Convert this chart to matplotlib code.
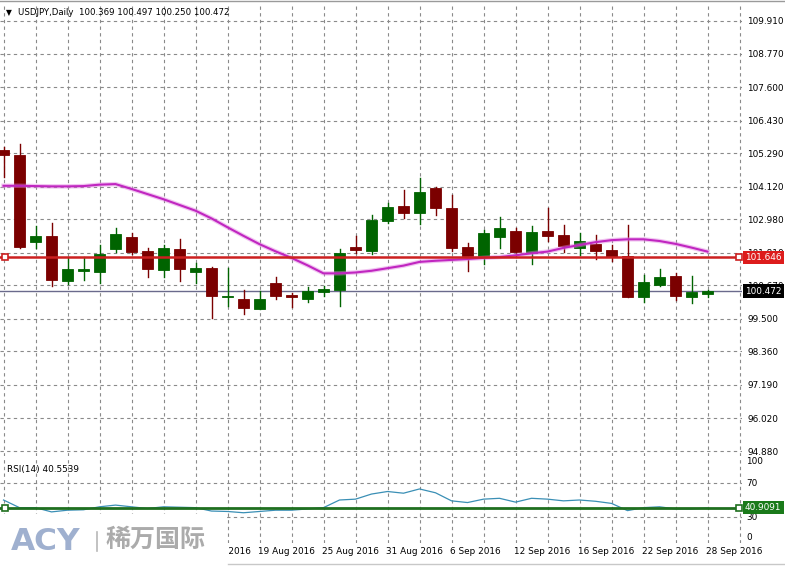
import matplotlib.pyplot as plt
import matplotlib.transforms as mtransforms
from matplotlib.patches import Rectangle
from matplotlib.lines import Line2D
import pandas as pd

# USDJPY daily bars, 28 Jul 2016 .. 28 Sep 2016
bar_dates = pd.bdate_range("2016-07-28", "2016-09-28")
opens = [105.40, 105.23, 102.20, 102.40, 100.83, 101.18, 101.15, 101.95, 102.35, 101.88,
         101.21, 101.93, 101.15, 101.27, 100.25, 100.18, 99.85, 100.74, 100.34, 100.20,
         100.45, 100.51, 102.02, 101.87, 102.93, 103.44, 103.19, 104.06, 103.36, 102.00,
         101.70, 102.37, 102.57, 101.81, 102.58, 102.43, 101.99, 102.12, 101.91, 101.70,
         100.28, 100.68, 100.99, 100.28, 100.369]
highs = [105.52, 105.61, 102.74, 102.84, 101.65, 101.65, 102.08, 102.66, 102.51, 101.96,
         102.07, 102.28, 101.46, 101.32, 101.27, 100.51, 100.48, 100.97, 100.41, 100.62,
         100.65, 101.93, 102.40, 103.13, 103.56, 104.00, 104.41, 104.12, 103.83, 102.14,
         102.60, 103.05, 102.66, 102.74, 103.36, 102.78, 102.51, 102.43, 102.08, 102.78,
         101.03, 101.23, 101.09, 100.99, 100.497]
lows = [104.47, 101.96, 101.96, 100.66, 100.72, 100.86, 100.76, 101.85, 101.77, 100.97,
        100.97, 100.83, 100.76, 99.52, 99.96, 99.66, 99.83, 100.19, 99.92, 100.09,
        100.30, 99.96, 101.79, 101.75, 102.86, 103.02, 102.81, 103.13, 101.87, 101.18,
        101.42, 101.96, 101.67, 101.42, 102.23, 101.85, 101.73, 101.58, 101.53, 100.28,
        100.10, 100.65, 100.16, 100.07, 100.250]
closes = [105.23, 102.02, 102.40, 100.86, 101.23, 101.25, 101.76, 102.47, 101.84, 101.25,
          101.96, 101.25, 101.27, 100.31, 100.31, 99.87, 100.18, 100.31, 100.25, 100.47,
          100.54, 101.81, 101.91, 102.95, 103.40, 103.21, 103.94, 103.39, 101.99, 101.70,
          102.49, 102.66, 101.84, 102.55, 102.41, 102.05, 102.22, 101.88, 101.67, 100.28,
          100.79, 100.97, 100.31, 100.43, 100.472]
ma = [104.15, 104.15, 104.14, 104.13, 104.13, 104.14, 104.19, 104.21, 104.04, 103.86,
      103.68, 103.48, 103.28, 103.01, 102.70, 102.40, 102.11, 101.86, 101.63, 101.37,
      101.09, 101.09, 101.12, 101.18, 101.27, 101.36, 101.49, 101.53, 101.56, 101.59,
      101.63, 101.66, 101.72, 101.79, 101.85, 101.98, 102.08, 102.18, 102.25, 102.28,
      102.28, 102.22, 102.12, 101.99, 101.85]
rsi = [50.0, 41.0, 41.0, 36.0, 38.0, 38.5, 42.0, 44.0, 42.0, 40.0,
       42.0, 41.5, 41.0, 37.0, 36.5, 35.0, 36.5, 38.0, 38.0, 39.5,
       41.0, 50.0, 51.0, 57.0, 60.0, 58.0, 63.0, 58.5, 49.0, 47.0,
       51.0, 52.0, 47.5, 52.0, 51.0, 49.0, 50.0, 48.5, 46.0, 37.5,
       41.0, 42.0, 39.5, 39.5, 40.55]
price_levels = [109.910, 108.770, 107.600, 106.430, 105.290, 104.120, 102.980,
                101.810, 100.670, 99.500, 98.360, 97.190, 96.020, 94.880]
red_level = 101.646
last_price = 100.472
rsi_level = 40.9091

bull = "#006400"
bear = "#7b0000"
grid_kw = dict(color="#8a8a8a", linestyle=(0, (3, 3)), linewidth=0.8)
font = "DejaVu Sans"
fs = 6.4

fig = plt.figure(figsize=(7.85, 5.66), dpi=100)
W, H = 785, 566
ax = fig.add_axes([0, 1 - 456 / H, 742 / W, 453 / H])
axr = fig.add_axes([0, 1 - 542.5 / H, 742 / W, 85 / H])

n = len(closes)
xs = list(range(n))
for a in (ax, axr):
    a.set_xlim(-0.219, 46.156)
    for s in a.spines.values():
        s.set_visible(False)
    a.set_xticks([])
    for gx in range(0, 48, 2):
        a.axvline(gx, zorder=0, **grid_kw)

# main price panel
ax.set_ylim(94.706, 110.539)
for lv in price_levels:
    ax.axhline(lv, zorder=0, **grid_kw)
ax.yaxis.tick_right()
ax.set_yticks(price_levels)
ax.set_yticklabels([f"{v:.3f}" for v in price_levels], fontsize=fs, family=font)
ax.tick_params(axis="y", length=0, pad=4)

bw = 0.69
for i in xs:
    o, h, l, c = opens[i], highs[i], lows[i], closes[i]
    col = bull if c >= o else bear
    ax.plot([i, i], [l, h], color=col, linewidth=1, zorder=3)
    ax.add_patch(Rectangle((i - bw / 2, min(o, c)), bw, max(abs(c - o), 0.03),
                           facecolor=col, edgecolor=col, linewidth=0.6, zorder=4))

ax.plot(xs, ma, color="#e07ee0", linewidth=3.2, alpha=0.45, zorder=5)
ax.plot(xs, ma, color="#c026c0", linewidth=1.5, zorder=5)

ax.axhline(red_level, color="#cc2020", linewidth=1.8, zorder=6)
ax.plot([0.09, 45.97], [red_level, red_level], linestyle="none", marker="s",
        markersize=4, markerfacecolor="white", markeredgecolor="#cc2020",
        markeredgewidth=1.2, zorder=7, clip_on=False)
ax.axhline(last_price, color="#6a6a8c", linewidth=1.0, zorder=2)

ax.text(1.004, red_level, "101.646", transform=ax.get_yaxis_transform(),
        fontsize=fs, family=font, color="white", va="center", ha="left", zorder=10,
        bbox=dict(boxstyle="square,pad=0.25", facecolor="#dd1c1c", edgecolor="none"))
ax.text(1.004, last_price, "100.472", transform=ax.get_yaxis_transform(),
        fontsize=fs, family=font, color="white", va="center", ha="left", zorder=10,
        bbox=dict(boxstyle="square,pad=0.25", facecolor="black", edgecolor="none"))

ax.text(0.008, 0.979, "\u25bc", transform=ax.transAxes, fontsize=5.5, family=font,
        va="center", ha="left")
ax.text(0.024, 0.98, "USDJPY,Daily  100.369 100.497 100.250 100.472",
        transform=ax.transAxes, fontsize=6.2, family=font, va="center", ha="left")

# RSI panel
axr.set_ylim(0, 100)
axr.set_yticks([])
for lv in (70, 30):
    axr.axhline(lv, zorder=0, **grid_kw)
axr.plot(xs, rsi, color="#3a8fb5", linewidth=0.9, zorder=3)
axr.axhline(rsi_level, color="#1f6f1f", linewidth=2.0, zorder=4)
axr.plot([0.09, 45.97], [rsi_level, rsi_level], linestyle="none", marker="s",
         markersize=4, markerfacecolor="white", markeredgecolor="#1f6f1f",
         markeredgewidth=1.2, zorder=7, clip_on=False)
ytr = axr.get_yaxis_transform()
for lv, va in ((100, "top"), (70, "center"), (30, "center"), (0, "bottom")):
    axr.text(1.006, lv, str(lv), transform=ytr, fontsize=fs, family=font,
             va=va, ha="left")
axr.text(1.004, rsi_level, "40.9091", transform=ytr, fontsize=fs, family=font,
         color="white", va="center", ha="left", zorder=10,
         bbox=dict(boxstyle="square,pad=0.25", facecolor="#1a7a1a", edgecolor="none"))
axr.text(0.009, 0.86, "RSI(14) 40.5539", transform=axr.transAxes, fontsize=fs,
         family=font, va="center", ha="left")

# date labels under the RSI panel (the first ones sit under the watermark)
dtr = mtransforms.blended_transform_factory(axr.transData, fig.transFigure)
for i in range(12, n, 4):
    d = bar_dates[i]
    axr.text(i - 0.1, 1 - 552 / H, f"{d.day} {d.strftime('%b %Y')}", transform=dtr,
             fontsize=fs, family=font, va="center", ha="left", clip_on=False)

# frame lines
fig.add_artist(Line2D([0, 1], [1 - 1 / H, 1 - 1 / H], color="#9a9a9a", linewidth=1))
fig.add_artist(Line2D([228 / W, 1], [1 - 564 / H, 1 - 564 / H], color="#c8c8c8",
                      linewidth=1))

# ACY watermark
fig.add_artist(Rectangle((0, 0), 227 / W, 1 - 514 / H, transform=fig.transFigure,
                         facecolor="white", edgecolor="none", zorder=20))
fig.text(11 / W, 1 - 541 / H, "ACY", fontsize=22.5, fontweight="heavy", family=font,
         color="#9fb0cf", va="center", ha="left", zorder=21)
fig.add_artist(Line2D([97 / W, 97 / W], [1 - 532 / H, 1 - 551 / H], color="#b8b8b8",
                      linewidth=1.2, zorder=21))
fig.text(106 / W, 1 - 540 / H, "稀万国际", fontsize=18, fontweight="bold",
         family=["Noto Sans CJK SC", "DejaVu Sans"], color="#ababab", va="center",
         ha="left", zorder=21)

fig.savefig("out.png", dpi=100, facecolor="white")
